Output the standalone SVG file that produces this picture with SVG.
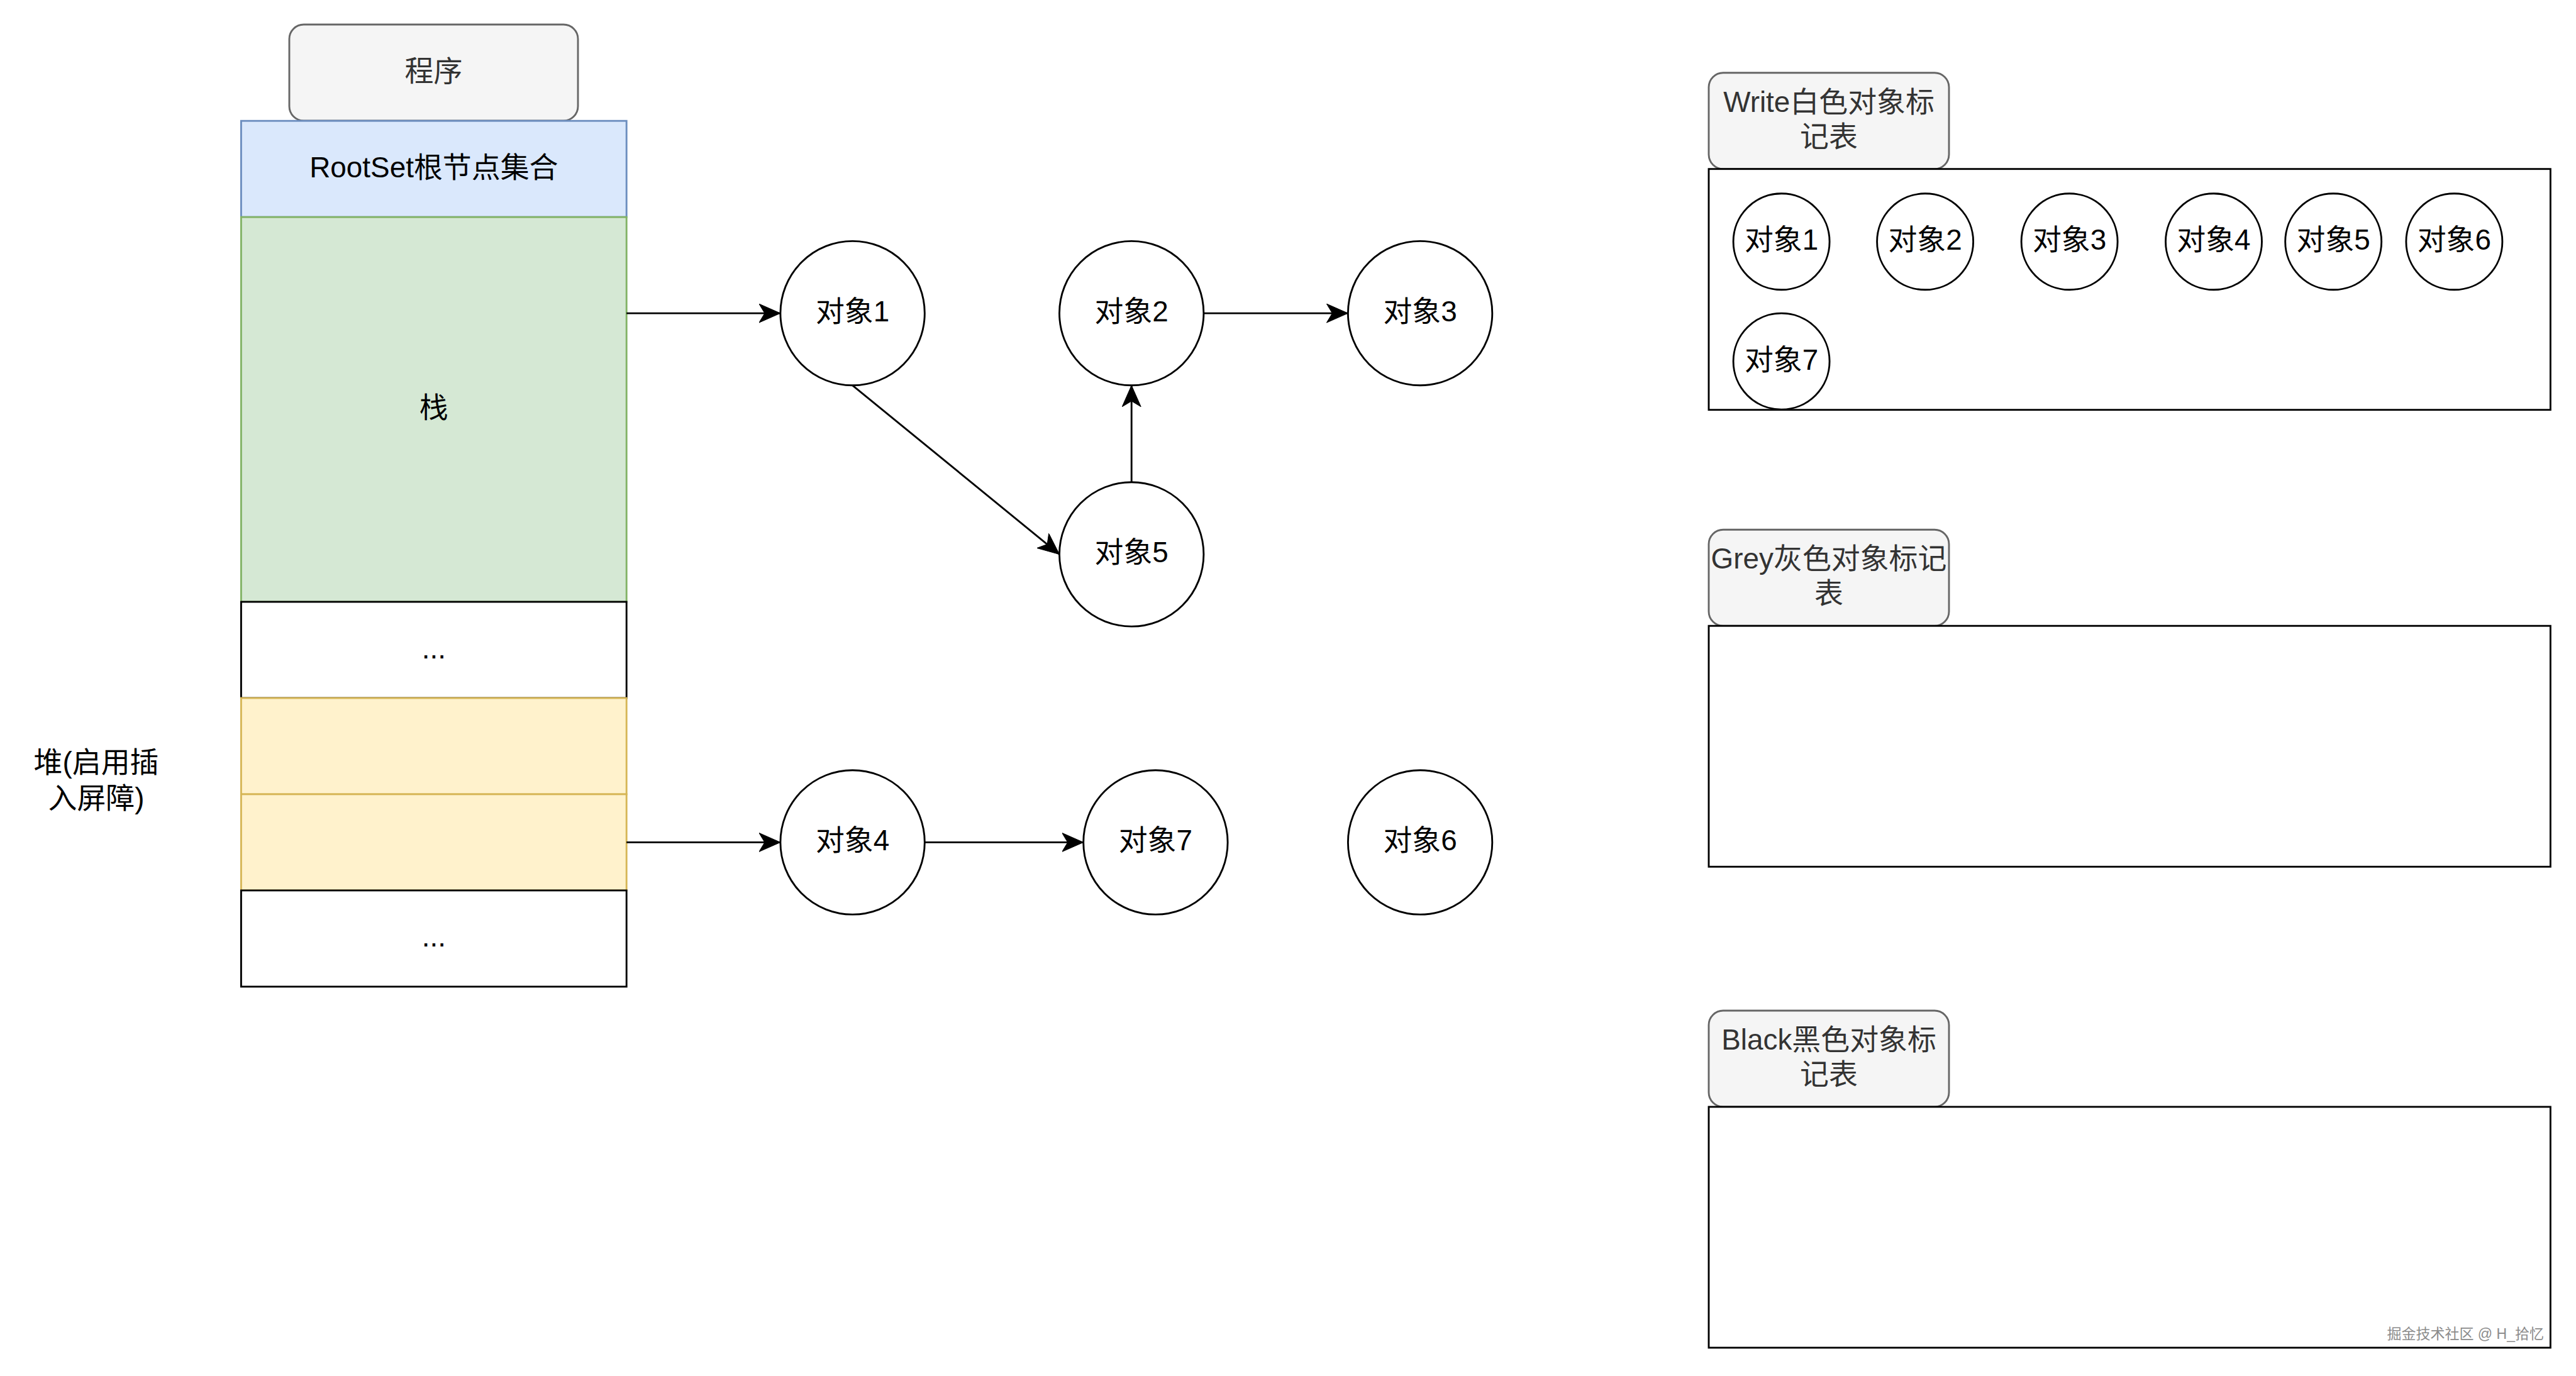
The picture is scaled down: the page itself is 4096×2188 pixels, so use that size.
<svg xmlns="http://www.w3.org/2000/svg" width="4096" height="2188" viewBox="0 0 4096 2188">
<style>
text{font-family:"Liberation Sans","Noto Sans CJK SC",sans-serif;font-size:45.9px;fill:#000;text-anchor:middle;dominant-baseline:central;transform:translateY(-3px)}
.lbl rect{fill:#f5f5f5;stroke:#666666;stroke-width:2.87}
.lbl text{fill:#333333}
.obj{fill:#fff;stroke:#000;stroke-width:2.87}
.box{fill:#fff;stroke:#000;stroke-width:2.87}
.edge{fill:none;stroke:#000;stroke-width:2.87;marker-end:url(#arr)}
.wm{font-size:23px;fill:#8c8c8c;text-anchor:end}
</style>
<defs>
<marker id="arr" markerUnits="userSpaceOnUse" markerWidth="36" markerHeight="32" refX="34" refY="15" orient="auto" viewBox="0 0 36 32">
<path d="M0,0 L34,15 L0,30 L9,15 Z" fill="#000" stroke="#000" stroke-width="1"/>
</marker>
</defs>
<rect width="4096" height="2188" fill="#fff"/>

<g id="program" class="lbl">
<rect x="460" y="39" width="459" height="153" rx="23"/>
<text x="689.5" y="115.5">程序</text>
</g>

<g id="rootset">
<rect x="383.4" y="192.2" width="612.8" height="153" fill="#dae8fc" stroke="#6c8ebf" stroke-width="2.87"/>
<text x="689.8" y="268.7">RootSet根节点集合</text>
</g>
<g id="stack">
<rect x="383.4" y="345.2" width="612.8" height="611.8" fill="#d5e8d4" stroke="#82b366" stroke-width="2.87"/>
<text x="689.8" y="651.1">栈</text>
</g>
<g id="dots1">
<rect class="box" x="383.4" y="957" width="612.8" height="153"/>
<text x="689.8" y="1033.5">...</text>
</g>
<g id="heap1">
<rect x="383.4" y="1110" width="612.8" height="153" fill="#fff2cc" stroke="#d6b656" stroke-width="2.87"/>
</g>
<g id="heap2">
<rect x="383.4" y="1262.9" width="612.8" height="153" fill="#fff2cc" stroke="#d6b656" stroke-width="2.87"/>
</g>
<g id="dots2">
<rect class="box" x="383.4" y="1415.9" width="612.8" height="153"/>
<text x="689.8" y="1492.4">...</text>
</g>
<g id="heap-label">
<text x="153" y="1215">堆(启用插</text>
<text x="153" y="1271.5">入屏障)</text>
</g>

<g id="obj1"><circle class="obj" cx="1355.6" cy="498.1" r="114.7"/><text x="1355.6" y="498.1">对象1</text></g>
<g id="obj2"><circle class="obj" cx="1799.2" cy="498.1" r="114.7"/><text x="1799.2" y="498.1">对象2</text></g>
<g id="obj3"><circle class="obj" cx="2258.1" cy="498.1" r="114.7"/><text x="2258.1" y="498.1">对象3</text></g>
<g id="obj5"><circle class="obj" cx="1799.2" cy="881.4" r="114.7"/><text x="1799.2" y="881.4">对象5</text></g>
<g id="obj4"><circle class="obj" cx="1355.6" cy="1339.4" r="114.7"/><text x="1355.6" y="1339.4">对象4</text></g>
<g id="obj7"><circle class="obj" cx="1837.4" cy="1339.4" r="114.7"/><text x="1837.4" y="1339.4">对象7</text></g>
<g id="obj6"><circle class="obj" cx="2258.1" cy="1339.4" r="114.7"/><text x="2258.1" y="1339.4">对象6</text></g>

<g id="connectors">
<path class="edge" d="M996.2,498.1 L1240.9,498.1"/>
<path class="edge" d="M996.2,1339.4 L1240.9,1339.4"/>
<path class="edge" d="M1355.6,612.8 L1684.5,881.4"/>
<path class="edge" d="M1799.2,766.7 L1799.2,612.8"/>
<path class="edge" d="M1913.9,498.1 L2143.4,498.1"/>
<path class="edge" d="M1470.3,1339.4 L1722.7,1339.4"/>
</g>

<g id="white-label" class="lbl">
<rect x="2717" y="115.7" width="382" height="153" rx="23"/>
<text x="2908" y="165">Write白色对象标</text>
<text x="2908" y="220">记表</text>
</g>
<g id="white-table">
<rect class="box" x="2717" y="268.7" width="1338.4" height="383"/>
</g>
<g id="w-obj1"><circle class="obj" cx="2832.6" cy="384.3" r="76.5"/><text x="2832.6" y="384.3">对象1</text></g>
<g id="w-obj2"><circle class="obj" cx="3061.1" cy="384.3" r="76.5"/><text x="3061.1" y="384.3">对象2</text></g>
<g id="w-obj3"><circle class="obj" cx="3290.6" cy="384.3" r="76.5"/><text x="3290.6" y="384.3">对象3</text></g>
<g id="w-obj4"><circle class="obj" cx="3520" cy="384.3" r="76.5"/><text x="3520" y="384.3">对象4</text></g>
<g id="w-obj5"><circle class="obj" cx="3710.2" cy="384.3" r="76.5"/><text x="3710.2" y="384.3">对象5</text></g>
<g id="w-obj6"><circle class="obj" cx="3902.4" cy="384.3" r="76.5"/><text x="3902.4" y="384.3">对象6</text></g>
<g id="w-obj7"><circle class="obj" cx="2832.6" cy="574.6" r="76.5"/><text x="2832.6" y="574.6">对象7</text></g>

<g id="grey-label" class="lbl">
<rect x="2717" y="842.2" width="382" height="153" rx="23"/>
<text x="2908" y="891">Grey灰色对象标记</text>
<text x="2908" y="946">表</text>
</g>
<g id="grey-table">
<rect class="box" x="2717" y="995.2" width="1338.4" height="383"/>
</g>

<g id="black-label" class="lbl">
<rect x="2717" y="1607" width="382" height="153" rx="23"/>
<text x="2908" y="1656">Black黑色对象标</text>
<text x="2908" y="1711">记表</text>
</g>
<g id="black-table">
<rect class="box" x="2717" y="1760" width="1338.4" height="383"/>
</g>

<text class="wm" x="4045" y="2124">掘金技术社区 @ H_拾忆</text>
</svg>
